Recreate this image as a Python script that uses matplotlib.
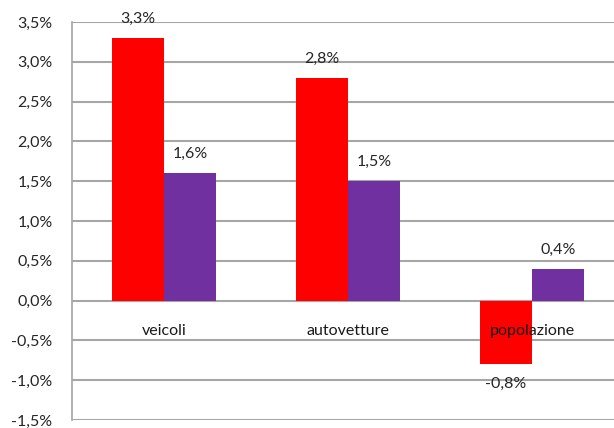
import matplotlib
matplotlib.use("Agg")
import matplotlib.pyplot as plt
import numpy as np

categories = ["veicoli", "autovetture", "popolazione"]
series_red = [3.3, 2.8, -0.8]
series_purple = [1.6, 1.5, 0.4]
y_ticks = [-1.5, -1.0, -0.5, 0.0, 0.5, 1.0, 1.5, 2.0, 2.5, 3.0, 3.5]

RED = "#ff0000"
PURPLE = "#7030a0"
GRID = "#a6a6a6"
TEXT = "#262626"
FS = 11.5

plt.rcParams["font.family"] = ["Lato", "DejaVu Sans"]

W, H = 614, 428
fig = plt.figure(figsize=(W / 100, H / 100), dpi=100)
# plot area runs past the right edge of the figure
left, right, top, bottom = 72, 624, 22, 420
ax = fig.add_axes([left / W, 1 - bottom / H, (right - left) / W, (bottom - top) / H])

x = np.arange(len(categories))
bw = 0.283
ax.bar(x - bw / 2, series_red, bw, color=RED, zorder=3)
ax.bar(x + bw / 2, series_purple, bw, color=PURPLE, zorder=3)

def fmt(v):
    return f"{v:.1f}".replace(".", ",") + "%"

for xi, v in zip(x - bw / 2, series_red):
    off = 19 if v >= 0 else -20
    ax.annotate(fmt(v), (xi, v), xytext=(0, off), textcoords="offset pixels",
                ha="center", va="center", fontsize=FS, color=TEXT, zorder=4)
for xi, v in zip(x + bw / 2, series_purple):
    ax.annotate(fmt(v), (xi, v), xytext=(0, 19), textcoords="offset pixels",
                ha="center", va="center", fontsize=FS, color=TEXT, zorder=4)

for xi, c in zip(x, categories):
    ax.annotate(c, (xi, 0), xytext=(0, -30), textcoords="offset pixels",
                ha="center", va="center", fontsize=FS, color="#1a1a1a", zorder=5)

ax.set_xlim(-0.5, 2.5)
ax.set_ylim(-1.5, 3.5)
ax.set_yticks(y_ticks)
ax.set_yticklabels([fmt(t) for t in y_ticks], fontsize=FS, color=TEXT)
ax.set_xticks([])
ax.tick_params(axis="y", length=0, pad=14)
ax.yaxis.grid(True, color=GRID, linewidth=1.5, zorder=0)
for s in ["top", "right", "bottom"]:
    ax.spines[s].set_visible(False)
ax.spines["left"].set_color(GRID)
ax.spines["left"].set_linewidth(1.2)
ax.set_facecolor("white")

fig.savefig("out.png", dpi=100)
